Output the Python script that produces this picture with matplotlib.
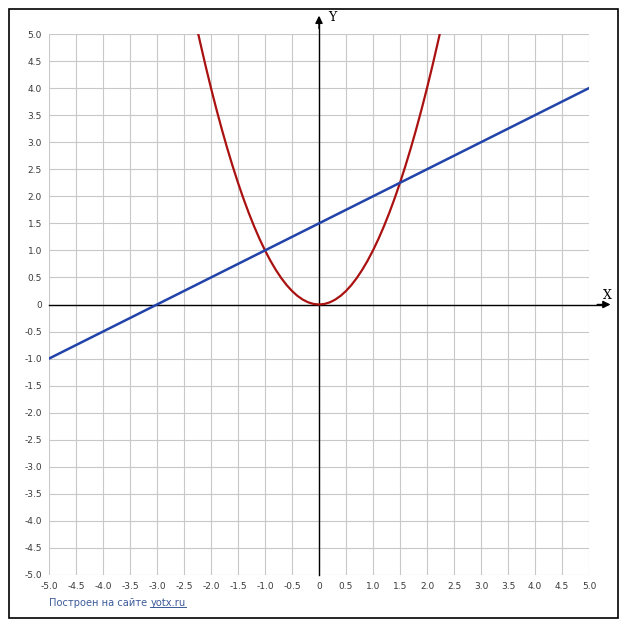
import matplotlib
matplotlib.use("Agg")
import matplotlib.pyplot as plt
from matplotlib.patches import Rectangle

# ---- data ----
parab_x = [-2.236, -2.2, -2.1, -2.0, -1.9, -1.8, -1.7, -1.6, -1.5, -1.4, -1.3, -1.2, -1.1,
           -1.0, -0.9, -0.8, -0.7, -0.6, -0.5, -0.4, -0.3, -0.2, -0.1, 0.0,
           0.1, 0.2, 0.3, 0.4, 0.5, 0.6, 0.7, 0.8, 0.9, 1.0, 1.1, 1.2, 1.3, 1.4,
           1.5, 1.6, 1.7, 1.8, 1.9, 2.0, 2.1, 2.2, 2.236]
parab_y = [5.0, 4.84, 4.41, 4.0, 3.61, 3.24, 2.89, 2.56, 2.25, 1.96, 1.69, 1.44, 1.21,
           1.0, 0.81, 0.64, 0.49, 0.36, 0.25, 0.16, 0.09, 0.04, 0.01, 0.0,
           0.01, 0.04, 0.09, 0.16, 0.25, 0.36, 0.49, 0.64, 0.81, 1.0, 1.21, 1.44, 1.69, 1.96,
           2.25, 2.56, 2.89, 3.24, 3.61, 4.0, 4.41, 4.84, 5.0]
line_x = [-5.0, 5.0]
line_y = [-1.0, 4.0]
ticks = [-5.0, -4.5, -4.0, -3.5, -3.0, -2.5, -2.0, -1.5, -1.0, -0.5, 0.0,
         0.5, 1.0, 1.5, 2.0, 2.5, 3.0, 3.5, 4.0, 4.5, 5.0]
tick_labels = ["0" if t == 0 else f"{t:.1f}" for t in ticks]

W, H = 627, 630
fig = plt.figure(figsize=(W / 100, H / 100), dpi=100)
fig.patch.set_facecolor("white")

# outer frame
fig.add_artist(Rectangle((9 / W, 1 - 618 / H), 609 / W, 609 / H, transform=fig.transFigure,
                         fill=False, edgecolor="black", linewidth=1.2))

L, R, T, B = 49, 589, 34, 575
ax = fig.add_axes([L / W, 1 - B / H, (R - L) / W, (B - T) / H])
ax.set_xlim(-5, 5)
ax.set_ylim(-5, 5)
for s in ax.spines.values():
    s.set_visible(False)
ax.set_xticks(ticks)
ax.set_yticks(ticks)
ax.set_xticklabels(tick_labels)
ax.set_yticklabels(tick_labels)
ax.tick_params(length=0, labelsize=6.5, labelcolor="#3a3a3a", pad=5)
ax.grid(True, color="#c8c8c8", linewidth=0.8)
ax.set_axisbelow(True)

# axes with arrows
ax.plot([-5, 5.3], [0, 0], color="black", linewidth=1.0, clip_on=False, zorder=3)
ax.plot([0, 0], [-5, 5.3], color="black", linewidth=1.0, clip_on=False, zorder=3)
ax.annotate("", xy=(5.45, 0), xytext=(5.1, 0), annotation_clip=False,
            arrowprops=dict(arrowstyle="-|>", color="black", lw=1.0, mutation_scale=11))
ax.annotate("", xy=(0, 5.39), xytext=(0, 5.05), annotation_clip=False,
            arrowprops=dict(arrowstyle="-|>", color="black", lw=1.0, mutation_scale=11))
ax.text(5.34, 0.16, "X", fontsize=9, family="DejaVu Serif", ha="center", va="center", clip_on=False)
ax.text(0.24, 5.31, "Y", fontsize=9, family="DejaVu Serif", ha="center", va="center", clip_on=False)

ax.plot(parab_x, parab_y, color="#aa1111", linewidth=1.6, zorder=4)
ax.plot(line_x, line_y, color="#2244aa", linewidth=1.8, zorder=5)

# footer
t1 = fig.text(49 / W, 1 - 603 / H, "Построен на сайте ", fontsize=7.1, color="#3c5a9a",
              ha="left", va="center")
fig.canvas.draw()
r = fig.canvas.get_renderer()
bb = t1.get_window_extent(r)
t2 = fig.text(bb.x1 / W, 1 - 603 / H, "yotx.ru", fontsize=7.1, color="#3c5a9a",
              ha="left", va="center")
fig.canvas.draw()
bb2 = t2.get_window_extent(r)
yline = (bb2.y0 + 1.5) / H
fig.add_artist(plt.Line2D([bb2.x0 / W, bb2.x1 / W], [yline, yline], transform=fig.transFigure,
                          color="#3c5a9a", linewidth=0.7))

fig.savefig("out.png", dpi=100, facecolor="white")
